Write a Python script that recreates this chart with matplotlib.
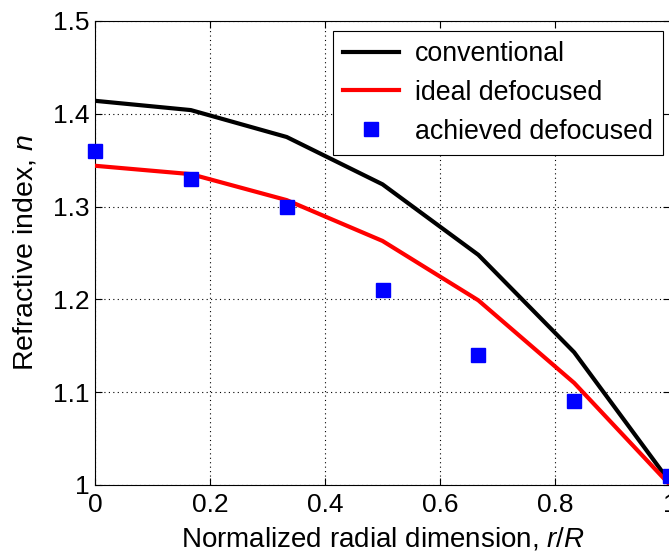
import matplotlib
matplotlib.use("Agg")
import matplotlib.pyplot as plt

plt.rcParams['font.family'] = ['Liberation Sans', 'DejaVu Sans']
plt.rcParams['mathtext.fontset'] = 'custom'
plt.rcParams['mathtext.it'] = 'Liberation Sans:italic'
plt.rcParams['mathtext.rm'] = 'Liberation Sans'

r = [0, 1/6, 1/3, 0.5, 2/3, 5/6, 1.0]
conventional = [1.414, 1.404, 1.375, 1.324, 1.248, 1.143, 1.003]
ideal = [1.344, 1.335, 1.307, 1.263, 1.199, 1.110, 1.000]
achieved = [1.36, 1.33, 1.30, 1.21, 1.14, 1.09, 1.01]

xticks = [0, 0.2, 0.4, 0.6, 0.8, 1.0]
xticklabels = ["0", "0.2", "0.4", "0.6", "0.8", "1"]
yticks = [1.0, 1.1, 1.2, 1.3, 1.4, 1.5]
yticklabels = ["1", "1.1", "1.2", "1.3", "1.4", "1.5"]

fig = plt.figure(figsize=(6.69, 5.55), dpi=100)
ax = fig.add_axes([95/669, (555-485)/555, (670-95)/669, (485-21)/555])

ax.plot(r, conventional, color='black', lw=3.0, label='conventional', zorder=3)
ax.plot(r, ideal, color='#ff0000', lw=3.0, label='ideal defocused', zorder=3)
ax.plot(r, achieved, ls='none', marker='s', ms=10.5, color='#0000ff',
        mec='#0000ff', label='achieved defocused', zorder=4, clip_on=False)

ax.set_xlim(0, 1)
ax.set_ylim(1, 1.5)
ax.set_xticks(xticks)
ax.set_xticklabels(xticklabels)
ax.set_yticks(yticks)
ax.set_yticklabels(yticklabels)
ax.tick_params(direction='in', top=True, right=True, length=5, width=0.8,
               labelsize=19)
ax.tick_params(axis='x', pad=6)
ax.tick_params(axis='y', pad=4)
ax.grid(True, color='black', ls=(0, (1, 3)), lw=0.8)
for s in ax.spines.values():
    s.set_linewidth(0.8)
    s.set_color('black')

ax.set_xlabel(r'Normalized radial dimension, $\it{r/R}$', fontsize=20, labelpad=6)
ax.set_ylabel(r'Refractive index, $\it{n}$', fontsize=20.5, labelpad=10)

leg = ax.legend(loc='upper right', bbox_to_anchor=((663-95)/575, (485-31)/464),
                borderaxespad=0, fontsize=19.3, frameon=True, fancybox=False,
                framealpha=1, edgecolor='black', handlelength=2.1,
                handletextpad=0.6, borderpad=0.37, labelspacing=0.48,
                markerscale=1.0)
leg.get_frame().set_linewidth(0.8)

fig.savefig('out.png', dpi=100)
